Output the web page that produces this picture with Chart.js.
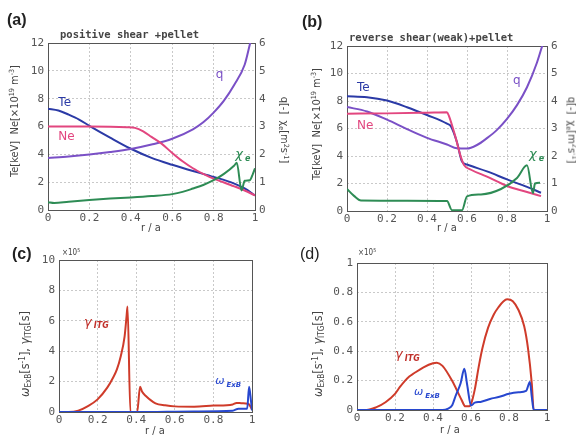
<!DOCTYPE html>
<html>
<head>
<meta charset="utf-8">
<script src="https://cdn.jsdelivr.net/npm/chart.js@4.4.1/dist/chart.umd.min.js"></script>
<style>
  body { margin: 0; background: #fff; }
  #page { position: relative; width: 576px; height: 437px; overflow: hidden; font-family: "DejaVu Sans", sans-serif; }
  .box { position: absolute; }
  .txt { position: absolute; white-space: nowrap; color: #333; }
  .rot { transform: translate(-50%, -50%) rotate(-90deg); }
  .rotR { transform: translate(-50%, -50%) rotate(90deg); }
  .lab { font-family: "Liberation Sans", Arial, sans-serif; font-weight: bold; font-size: 16px; color: #222; }
  .ttl { font-family: "DejaVu Sans Mono", monospace; font-size: 10.5px; font-weight: bold; color: #444; }
  .ax { font-family: "DejaVu Sans Condensed", "DejaVu Sans", sans-serif; font-size: 11px; color: #444; }
  sup, sub { font-size: 65%; }
  sup { vertical-align: 0.5em; } sub { vertical-align: -0.3em; }
</style>
</head>
<body>
<div id="page">
  <div class="box" style="left:0;top:0"><canvas id="chartA" width="290" height="232"></canvas></div>
  <div class="box" style="left:290px;top:0"><canvas id="chartB" width="286" height="232"></canvas></div>
  <div class="box" style="left:0;top:232px"><canvas id="chartC" width="290" height="205"></canvas></div>
  <div class="box" style="left:290px;top:232px"><canvas id="chartD" width="286" height="205"></canvas></div>

  <div class="txt lab" style="left:7px;top:11px">(a)</div>
  <div class="txt lab" style="left:302px;top:13px">(b)</div>
  <div class="txt lab" style="left:12px;top:245px">(c)</div>
  <div class="txt lab" style="left:300px;top:245px;font-weight:normal">(d)</div>

  <div class="txt ttl" style="left:60px;top:28px">positive shear +pellet</div>
  <div class="txt ttl" style="left:349px;top:31px">reverse shear(weak)+pellet</div>

  <div class="txt ax rot" style="left:14px;top:121px">Te[keV]&nbsp;&nbsp;Ne[&times;10<sup>19</sup> m<sup>-3</sup>]</div>
  <div class="txt ax rotR" style="left:284px;top:130px">q[-]&nbsp;&nbsp;&chi;<sub>e</sub>[m<sup>2</sup>s<sup>-1</sup>]</div>
  <div class="txt ax rot" style="left:316px;top:124px">Te[keV]&nbsp;&nbsp;Ne[&times;10<sup>19</sup> m<sup>-3</sup>]</div>
  <div class="txt ax rotR" style="left:572px;top:130px">q[-]&nbsp;&nbsp;&chi;<sub>e</sub>[m<sup>2</sup>s<sup>-1</sup>]</div>
  <div class="txt ax rot" style="left:25px;top:354px;font-size:12.5px"><i>&omega;</i><sub>ExB</sub>[s<sup>-1</sup>], <i>&gamma;</i><sub>ITG</sub>[s]</div>
  <div class="txt ax rot" style="left:318px;top:354px;font-size:12.5px"><i>&omega;</i><sub>ExB</sub>[s<sup>-1</sup>], <i>&gamma;</i><sub>ITG</sub>[s]</div>

  <div class="txt ax" style="left:141px;top:221px">r / a</div>
  <div class="txt ax" style="left:437px;top:221px">r / a</div>
  <div class="txt ax" style="left:145px;top:424px">r / a</div>
  <div class="txt ax" style="left:440px;top:423px">r / a</div>

  <div class="txt ax" style="left:62px;top:247px;font-size:8px">&times;10<sup>5</sup></div>
  <div class="txt ax" style="left:358px;top:247px;font-size:8px">&times;10<sup>5</sup></div>
</div>

<script>
// ---- (a) positive shear + pellet ----
const teA_r = [0, 0.05, 0.1, 0.15, 0.2, 0.3, 0.4, 0.5, 0.6, 0.7, 0.8, 0.9, 0.95, 1.0];
const teA   = [7.28, 7.15, 6.85, 6.5, 6.05, 5.2, 4.4, 3.75, 3.25, 2.8, 2.38, 1.9, 1.55, 1.05];
const neA_r = [0, 0.2, 0.38, 0.42, 0.46, 0.5, 0.55, 0.6, 0.65, 0.7, 0.75, 0.8, 0.85, 0.9, 0.95, 1.0];
const neA   = [6.0, 6.0, 5.95, 5.9, 5.65, 5.25, 4.75, 4.1, 3.5, 3.0, 2.6, 2.25, 1.98, 1.7, 1.4, 1.05];
const qA_r  = [0, 0.1, 0.2, 0.3, 0.4, 0.5, 0.6, 0.7, 0.75, 0.8, 0.85, 0.9, 0.95, 0.975, 1.0];
const qA    = [1.87, 1.92, 1.99, 2.08, 2.19, 2.35, 2.56, 2.9, 3.15, 3.5, 3.93, 4.5, 5.22, 5.95, 6.7];
const chiA_r = [0, 0.03, 0.1, 0.2, 0.3, 0.4, 0.5, 0.6, 0.65, 0.7, 0.75, 0.8, 0.85, 0.9, 0.912, 0.935, 0.95, 0.975, 0.99, 1.0];
const chiA   = [0.28, 0.25, 0.3, 0.36, 0.41, 0.45, 0.5, 0.57, 0.65, 0.77, 0.9, 1.07, 1.3, 1.6, 1.7, 0.7, 1.05, 1.07, 1.3, 1.5];

// ---- (b) reverse shear (weak) + pellet ----
const teB_r = [0, 0.1, 0.2, 0.3, 0.4, 0.5, 0.52, 0.55, 0.575, 0.6, 0.7, 0.8, 0.9, 0.97];
const teB   = [8.35, 8.28, 8.03, 7.55, 6.98, 6.35, 6.15, 5.0, 3.6, 3.38, 2.88, 2.3, 1.75, 1.33];
const neB_r = [0, 0.2, 0.4, 0.5, 0.51, 0.54, 0.57, 0.585, 0.62, 0.7, 0.8, 0.9, 0.97];
const neB   = [7.08, 7.1, 7.15, 7.18, 6.9, 5.5, 3.9, 3.35, 3.0, 2.5, 1.82, 1.38, 1.08];
const qB_r  = [0, 0.1, 0.2, 0.3, 0.4, 0.5, 0.55, 0.6, 0.65, 0.7, 0.75, 0.8, 0.85, 0.9, 0.95, 0.98];
const qB    = [3.78, 3.62, 3.32, 2.98, 2.66, 2.42, 2.28, 2.27, 2.4, 2.65, 2.95, 3.35, 3.85, 4.5, 5.4, 6.1];
const chiB_r = [0, 0.035, 0.07, 0.3, 0.5, 0.525, 0.575, 0.6, 0.67, 0.77, 0.85, 0.9, 0.93, 0.94, 0.965];
const chiB   = [0.8, 0.55, 0.38, 0.37, 0.36, 0.03, 0.03, 0.53, 0.6, 0.8, 1.2, 1.66, 0.65, 1.0, 1.03];

// ---- (c) growth rate / ExB shearing rate, positive shear (x1e5) ----
const gamC_r = [0, 0.05, 0.1, 0.15, 0.2, 0.25, 0.28, 0.3, 0.32, 0.34, 0.35, 0.355, 0.37, 0.39, 0.405, 0.42, 0.43, 0.45, 0.5, 0.55, 0.6, 0.7, 0.8, 0.9, 0.92, 0.95, 0.98, 0.99, 1.0];
const gamC   = [0, 0, 0.09, 0.39, 0.83, 1.6, 2.25, 2.8, 3.67, 4.98, 6.29, 6.94, 0, 0, 0, 1.66, 1.35, 1.05, 0.57, 0.44, 0.37, 0.35, 0.42, 0.5, 0.6, 0.57, 0.55, 0.4, 0.17];
const omC_r = [0, 0.4, 0.7, 0.9, 0.93, 0.975, 0.985, 0.995, 1.0];
const omC   = [0, 0, 0.04, 0.08, 0.22, 0.22, 1.66, 0.7, 0.1];

// ---- (d) growth rate / ExB shearing rate, reverse shear (x1e5) ----
const gamD_r = [0, 0.05, 0.1, 0.15, 0.2, 0.225, 0.25, 0.275, 0.3, 0.35, 0.4, 0.42, 0.45, 0.5, 0.55, 0.57, 0.59, 0.6, 0.62, 0.64, 0.66, 0.69, 0.72, 0.745, 0.77, 0.79, 0.82, 0.85, 0.88, 0.9, 0.92, 0.93, 1.0];
const gamD   = [0, 0, 0.018, 0.053, 0.11, 0.155, 0.195, 0.228, 0.25, 0.29, 0.318, 0.322, 0.3, 0.2, 0.07, 0.025, 0.025, 0.04, 0.14, 0.29, 0.42, 0.56, 0.65, 0.7, 0.738, 0.753, 0.74, 0.68, 0.57, 0.42, 0.18, 0, 0];
const omD_r = [0, 0.45, 0.48, 0.5, 0.52, 0.545, 0.565, 0.58, 0.6, 0.62, 0.65, 0.7, 0.75, 0.8, 0.85, 0.89, 0.91, 0.92, 0.93, 1.0];
const omD   = [0, 0, 0.01, 0.03, 0.1, 0.18, 0.28, 0.17, 0.03, 0.05, 0.055, 0.075, 0.09, 0.11, 0.12, 0.13, 0.19, 0.09, 0, 0];

const rTicks = [0, 0.2, 0.4, 0.6, 0.8, 1];

const pts = (xs, ys) => xs.map((x, i) => ({ x: x, y: ys[i] }));
const fmt = (v) => String(Math.round(v * 10) / 10);

const tickFont = { family: 'DejaVu Sans Mono', size: 11 };

// frame round the plot area
const framePlugin = {
    id: 'frame',
    beforeDatasetsDraw(chart) {
        const a = chart.chartArea, ctx = chart.ctx;
        ctx.save();
        ctx.strokeStyle = '#555';
        ctx.lineWidth = 1;
        ctx.strokeRect(a.left + 0.5, a.top + 0.5, a.right - a.left, a.bottom - a.top);
        ctx.restore();
    }
};

// curve labels placed in data coordinates
const notesPlugin = {
    id: 'notes',
    afterDatasetsDraw(chart, args, opts) {
        const ctx = chart.ctx;
        (opts.items || []).forEach(n => {
            const px = chart.scales.x.getPixelForValue(n.x);
            const py = chart.scales[n.axis || 'y'].getPixelForValue(n.y);
            ctx.save();
            ctx.fillStyle = n.color;
            ctx.textBaseline = 'middle';
            ctx.font = (n.italic ? 'italic ' : '') + (n.size || 12) + 'px "DejaVu Sans"';
            ctx.fillText(n.text, px, py);
            if (n.sub) {
                const w = ctx.measureText(n.text).width;
                ctx.font = 'italic bold ' + Math.round((n.size || 12) * 0.6) + 'px "DejaVu Sans"';
                ctx.fillText(n.sub, px + w + 2, py + 4);
            }
            ctx.restore();
        });
    }
};

const line = (data, color, yAxisID) => ({
    data: data,
    borderColor: color,
    borderWidth: 2,
    pointRadius: 0,
    fill: false,
    cubicInterpolationMode: 'monotone',
    yAxisID: yAxisID || 'y'
});

const xScale = (h) => ({
    type: 'linear', min: 0, max: 1,
    afterBuildTicks: (s) => { s.ticks = rTicks.map(v => ({ value: v })); },
    ticks: { font: tickFont, color: '#555', padding: 2, callback: fmt, maxRotation: 0, autoSkip: false },
    grid: { color: '#c9c9c9', drawTicks: false },
    border: { display: false, dash: [2, 2] },
    afterFit: (s) => { s.height = h; }
});

const yScale = (max, step, w, position, showGrid) => ({
    type: 'linear', min: 0, max: max, position: position,
    ticks: { stepSize: step, font: tickFont, color: '#555', padding: 4, callback: fmt },
    grid: { display: showGrid, color: '#c9c9c9', drawTicks: false },
    border: { display: false, dash: [2, 2] },
    afterFit: (s) => { s.width = w; }
});

const baseOptions = (scales, padding, notes) => ({
    responsive: false,
    animation: false,
    devicePixelRatio: 1,
    layout: { padding: padding },
    scales: scales,
    plugins: {
        legend: { display: false },
        tooltip: { enabled: false },
        notes: { items: notes }
    }
});

const cTe = '#2b3aa6', cNe = '#e2467f', cQ = '#7a50c6', cChi = '#2e8c55';
const cGam = '#cf3b2a', cOm = '#2747cf';

new Chart(document.getElementById('chartA').getContext('2d'), {
    type: 'line',
    data: {
        datasets: [
            line(pts(chiA_r, chiA), cChi, 'y2'),
            line(pts(neA_r, neA), cNe),
            line(pts(qA_r, qA), cQ, 'y2'),
            line(pts(teA_r, teA), cTe)
        ]
    },
    options: baseOptions(
        { x: xScale(22), y: yScale(12, 2, 48, 'left', true), y2: yScale(6, 1, 35, 'right', false) },
        { top: 43, left: 0, right: 0, bottom: 0 },
        [
            { x: 0.05, y: 7.7, text: 'Te', color: cTe },
            { x: 0.05, y: 5.25, text: 'Ne', color: cNe },
            { x: 0.81, y: 9.7, text: 'q', color: cQ },
            { x: 0.905, y: 3.95, text: 'χ', sub: 'e', color: cChi, italic: true, size: 13 }
        ]
    ),
    plugins: [framePlugin, notesPlugin]
});

new Chart(document.getElementById('chartB').getContext('2d'), {
    type: 'line',
    data: {
        datasets: [
            line(pts(chiB_r, chiB), cChi, 'y2'),
            line(pts(neB_r, neB), cNe),
            line(pts(qB_r, qB), cQ, 'y2'),
            line(pts(teB_r, teB), cTe)
        ]
    },
    options: baseOptions(
        { x: xScale(21), y: yScale(12, 2, 57, 'left', true), y2: yScale(6, 1, 29, 'right', false) },
        { top: 46, left: 0, right: 0, bottom: 0 },
        [
            { x: 0.05, y: 8.95, text: 'Te', color: cTe },
            { x: 0.05, y: 6.2, text: 'Ne', color: cNe },
            { x: 0.83, y: 9.5, text: 'q', color: cQ },
            { x: 0.91, y: 4.1, text: 'χ', sub: 'e', color: cChi, italic: true, size: 13 }
        ]
    ),
    plugins: [framePlugin, notesPlugin]
});

new Chart(document.getElementById('chartC').getContext('2d'), {
    type: 'line',
    data: {
        datasets: [
            line(pts(omC_r, omC), cOm),
            line(pts(gamC_r, gamC), cGam)
        ]
    },
    options: baseOptions(
        { x: xScale(25), y: yScale(10, 2, 59, 'left', true) },
        { top: 28, left: 0, right: 38, bottom: 0 },
        [
            { x: 0.13, y: 5.9, text: 'γ', sub: 'ITG', color: '#c0302a', italic: true, size: 13 },
            { x: 0.81, y: 2.0, text: 'ω', sub: 'ExB', color: cOm, italic: true, size: 11 }
        ]
    ),
    plugins: [framePlugin, notesPlugin]
});

new Chart(document.getElementById('chartD').getContext('2d'), {
    type: 'line',
    data: {
        datasets: [
            line(pts(omD_r, omD), cOm),
            line(pts(gamD_r, gamD), cGam)
        ]
    },
    options: baseOptions(
        { x: xScale(27), y: yScale(1, 0.2, 67, 'left', true) },
        { top: 31, left: 0, right: 29, bottom: 0 },
        [
            { x: 0.2, y: 0.375, text: 'γ', sub: 'ITG', color: '#c0302a', italic: true, size: 13 },
            { x: 0.3, y: 0.12, text: 'ω', sub: 'ExB', color: cOm, italic: true, size: 11 }
        ]
    ),
    plugins: [framePlugin, notesPlugin]
});
</script>
</body>
</html>
